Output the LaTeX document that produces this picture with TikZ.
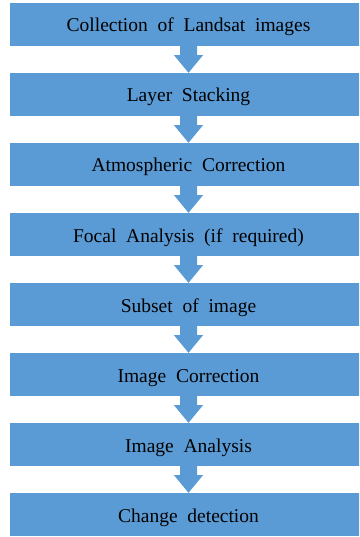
\documentclass[tikz,border=0pt]{standalone}
\usepackage{fontspec}
\setmainfont{Liberation Serif}
\newfontfamily\stagefont[WordSpace=2.0]{Liberation Serif}
\usetikzlibrary{calc}
\definecolor{stageblue}{HTML}{5B9BD5}
\tikzset{
  stage/.style={fill=stageblue, minimum width=357pt, minimum height=43pt,
    inner sep=0pt, text height=15pt, text depth=0pt,
    font=\stagefont\fontsize{19.5}{22}\selectfont},
  flowarrow/.style={fill=stageblue}
}
\begin{document}
\begin{tikzpicture}[x=1pt, y=1pt]
  \useasboundingbox (0,0) rectangle (359,-537);
  \clip (0,0) rectangle (359,-537);
  % processing stages
  \node[stage] (collect) at (188.5, -24.5) {Collection of Landsat images};
  \node[stage] (stack)   at (188.5, -94.5) {Layer Stacking};
  \node[stage] (atmos)   at (188.5,-164.5) {Atmospheric Correction};
  \node[stage] (focal)   at (188.5,-234.5) {Focal Analysis (if required)};
  \node[stage] (subset)  at (188.5,-304.5) {Subset of image};
  \node[stage] (imgcorr) at (188.5,-374.5) {Image Correction};
  \node[stage] (analyse) at (188.5,-444.5) {Image Analysis};
  \node[stage] (change)  at (188.5,-514.5) {Change detection};
  % block arrows between stages
  \foreach \a/\b in {collect/stack, stack/atmos, atmos/focal, focal/subset,
                     subset/imgcorr, imgcorr/analyse, analyse/change}
    \fill[flowarrow] ($(\a.south)+(-8.5,1)$) -- ($(\a.south)+(-8.5,-9)$)
      -- ($(\a.south)+(-14.5,-9)$) -- (\b.north) -- ($(\a.south)+(14.5,-9)$)
      -- ($(\a.south)+(8.5,-9)$) -- ($(\a.south)+(8.5,1)$) -- cycle;
\end{tikzpicture}
\end{document}
